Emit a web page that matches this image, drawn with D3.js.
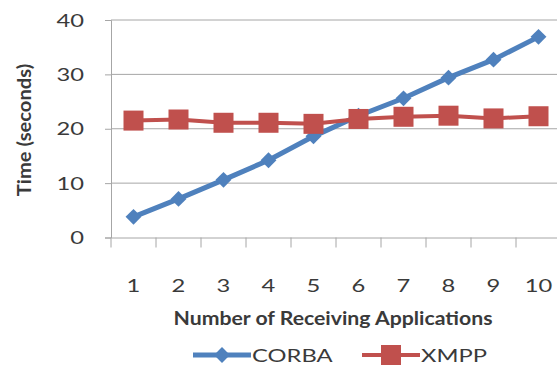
<!DOCTYPE html>
<html lang="en">
<head>
  <meta charset="UTF-8">
  <title>CORBA vs XMPP</title>
  <style>
    body { margin: 0; background: #fff; }
    text { font-family: Lato, "Open Sans", sans-serif; fill: #3a3a3a; }
  </style>
</head>
<body>
  <svg id="svg" width="557" height="366"></svg>

  <script src="https://d3js.org/d3.v7.min.js"></script>
  <script>
    const apps = ['1', '2', '3', '4', '5', '6', '7', '8', '9', '10']
    const corba = [3.8, 7.1, 10.6, 14.2, 18.6, 22.4, 25.6, 29.4, 32.7, 36.9]
    const xmpp = [21.5, 21.7, 21.1, 21.1, 20.9, 21.8, 22.2, 22.4, 21.9, 22.3]
    const yTicks = [0, 10, 20, 30, 40]

    const svg = d3.select('#svg')
    const grey = '#a6a6a6'

    // the original picture is a bit wide, so text gets stretched sideways
    function label(x, y, str, opts) {
      const o = Object.assign({ size: 18, weight: 'normal', anchor: 'start', sx: 1.32 }, opts)
      return svg.append('text')
        .attr('transform', `translate(${x},${y}) scale(${o.sx},1)`)
        .attr('text-anchor', o.anchor)
        .style('font-size', o.size + 'px')
        .style('font-weight', o.weight)
        .text(str)
    }

    const xScale = d3.scaleBand()
      .domain(apps)
      .range([111, 561])

    const yScale = d3.scaleLinear()
      .domain([0, 40])
      .range([237.5, 20])

    const cx = d => xScale(d) + xScale.bandwidth() / 2

    // gridlines
    svg.selectAll('.grid')
      .data(yTicks.slice(1))
      .enter()
      .append('line')
      .attr('x1', 111)
      .attr('x2', 561)
      .attr('y1', d => yScale(d))
      .attr('y2', d => yScale(d))
      .attr('stroke', grey)

    const yAxis = svg.append('g')
      .attr('transform', 'translate(111,0)')
      .call(d3.axisLeft(yScale).tickValues(yTicks).tickSize(6).tickFormat(''))
    yAxis.select('.domain').attr('stroke', grey)
    yAxis.selectAll('line').attr('stroke', grey)

    const xAxis = svg.append('g')
      .attr('transform', 'translate(0,237.5)')
      .call(d3.axisBottom(xScale).tickSize(0).tickFormat(''))
    xAxis.select('.domain').attr('stroke', grey)

    // category boundary ticks
    xAxis.selectAll('.sep')
      .data(apps)
      .enter()
      .append('line')
      .attr('x1', d => xScale(d))
      .attr('x2', d => xScale(d))
      .attr('y1', 0)
      .attr('y2', 10)
      .attr('stroke', grey)

    yTicks.forEach(t => label(84, yScale(t) + 6.5, String(t), { anchor: 'end' }))
    apps.forEach(a => label(cx(a), 292, a, { anchor: 'middle' }))

    const line = d3.line()
      .x((d, i) => cx(apps[i]))
      .y(d => yScale(d))

    svg.append('path')
      .datum(corba)
      .attr('d', line)
      .attr('fill', 'none')
      .attr('stroke', '#4f81bd')
      .attr('stroke-width', 5)

    svg.append('path')
      .datum(xmpp)
      .attr('d', line)
      .attr('fill', 'none')
      .attr('stroke', '#c0504d')
      .attr('stroke-width', 4)

    const diamond = d3.symbol().type(d3.symbolDiamond2).size(160)

    svg.selectAll('.corba')
      .data(corba)
      .enter()
      .append('path')
      .attr('d', diamond)
      .attr('transform', (d, i) => `translate(${cx(apps[i])},${yScale(d)})`)
      .attr('fill', '#4f81bd')

    svg.selectAll('.xmpp')
      .data(xmpp)
      .enter()
      .append('rect')
      .attr('x', (d, i) => cx(apps[i]) - 10)
      .attr('y', d => yScale(d) - 10)
      .attr('width', 20)
      .attr('height', 20)
      .attr('fill', '#c0504d')

    // axis titles
    label(333, 325, 'Number of Receiving Applications', { anchor: 'middle', weight: 'bold', sx: 1.18 })

    svg.append('text')
      .attr('transform', 'translate(31,130) rotate(-90) scale(1.12,1)')
      .attr('text-anchor', 'middle')
      .style('font-size', '18px')
      .style('font-weight', 'bold')
      .text('Time (seconds)')

    // legend
    const legend = [
      { name: 'CORBA', color: '#4f81bd', x: 193 },
      { name: 'XMPP', color: '#c0504d', x: 362 }
    ]
    legend.forEach((d, i) => {
      svg.append('line')
        .attr('x1', d.x).attr('x2', d.x + 58)
        .attr('y1', 355).attr('y2', 355)
        .attr('stroke', d.color)
        .attr('stroke-width', i === 0 ? 5 : 4)
      if (i === 0) {
        svg.append('path')
          .attr('d', diamond)
          .attr('transform', `translate(${d.x + 29},355)`)
          .attr('fill', d.color)
      } else {
        svg.append('rect')
          .attr('x', d.x + 19).attr('y', 345)
          .attr('width', 20).attr('height', 20)
          .attr('fill', d.color)
      }
      label(d.x + 59, 362, d.name)
    })
  </script>
</body>
</html>
